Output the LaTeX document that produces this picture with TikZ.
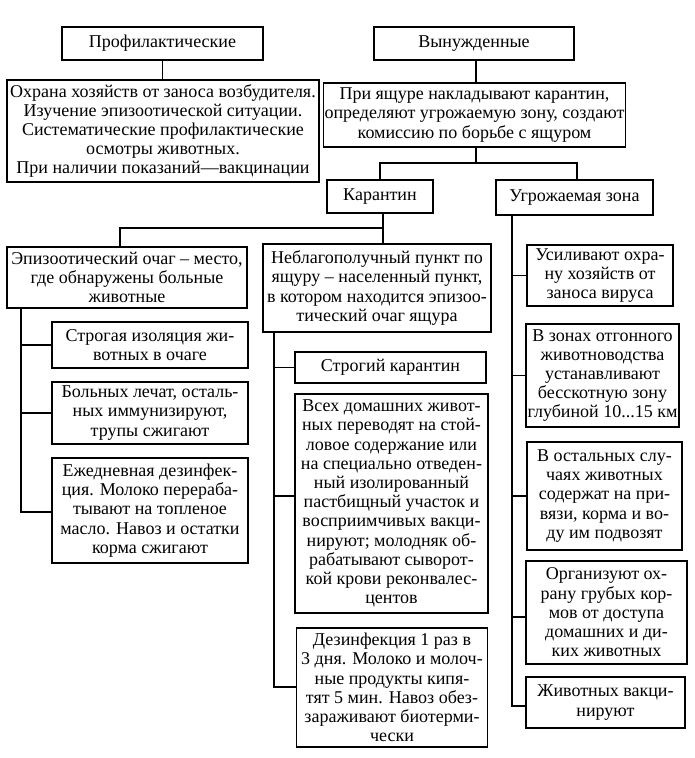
\documentclass[tikz,border=0pt]{standalone}
\usepackage{fontspec}
\setmainfont{Liberation Serif}
\begin{document}
\begin{tikzpicture}[x=1pt,y=-1pt,
  box/.style={draw=black,line width=1.2pt,inner sep=1pt,align=center,
    font=\fontsize{18}{19.2}\selectfont,anchor=center},
  conn/.style={draw=black,line width=1.6pt}]
\useasboundingbox[fill=white] (0,0) rectangle (694,758);
% top level
\node[box,minimum width=201pt,minimum height=33pt] (prof) at (162.5,43.5) {Профилактические};
\node[box,minimum width=312pt,minimum height=102pt] (proftext) at (163,131) {Охрана хозяйств от заноса возбудителя.\\ Изучение эпизоотической ситуации.\\ Систематические профилактические\\ осмотры животных.\\ При наличии показаний—вакцинации};
\node[box,minimum width=200pt,minimum height=33pt] (vyn) at (474,43.5) {Вынужденные};
\node[box,minimum width=295pt,minimum height=64pt] (vyntext) at (474.5,115) {При ящуре накладывают карантин,\\ определяют угрожаемую зону, создают\\ комиссию по борьбе с ящуром};
\node[box,minimum width=106pt,minimum height=33pt] (karantin) at (380,196.5) {Карантин};
\node[box,minimum width=157pt,minimum height=35pt] (ugroz) at (574.5,197.5) {Угрожаемая зона};
% second level
\node[box,minimum width=240pt,minimum height=61pt] (epiz) at (127,277.5) {Эпизоотический очаг – место,\\ где обнаружены больные\\ животные};
\node[box,minimum width=228pt,minimum height=88pt] (nebl) at (377,288) {Неблагополучный пункт по\\ ящуру – населенный пункт,\\ в котором находится эпизоо-\\ тический очаг ящура};
% left column
\node[box,minimum width=196pt,minimum height=46pt] (strogiz) at (150,345) {Строгая изоляция жи-\\ вотных в очаге};
\node[box,minimum width=196pt,minimum height=62pt] (boln) at (150,413) {Больных лечат, осталь-\\ ных иммунизируют,\\ трупы сжигают};
\node[box,minimum width=196pt,minimum height=105pt] (ezhedn) at (150,510.5) {Ежедневная дезинфек-\\ ция. Молоко перераба-\\ тывают на топленое\\ масло. Навоз и остатки\\ корма сжигают};
% middle column
\node[box,minimum width=191pt,minimum height=31pt] (strkar) at (390.5,367.5) {Строгий карантин};
\node[box,minimum width=193pt,minimum height=219pt] (vseh) at (391.5,503.5) {Всех домашних живот-\\ ных переводят на стой-\\ ловое содержание или\\ на специально отведен-\\ ный изолированный\\ пастбищный участок и\\ восприимчивых вакци-\\ нируют; молодняк об-\\ рабатывают сыворот-\\ кой крови реконвалес-\\ центов};
\node[box,minimum width=191pt,minimum height=119pt] (dezinf) at (392,687.5) {Дезинфекция 1 раз в\\ 3 дня. Молоко и молоч-\\ ные продукты кипя-\\ тят 5 мин. Навоз обез-\\ зараживают биотерми-\\ чески};
% right column
\node[box,minimum width=146pt,minimum height=61pt] (usil) at (600,275.5) {Усиливают охра-\\ ну хозяйств от\\ заноса вируса};
\node[box,minimum width=153pt,minimum height=103pt] (zonah) at (602.5,375.5) {В зонах отгонного\\ животноводства\\ устанавливают\\ бесскотную зону\\ глубиной 10...15 км};
\node[box,minimum width=155pt,minimum height=108pt] (ostal) at (604.5,496) {В остальных слу-\\ чаях животных\\ содержат на при-\\ вязи, корма и во-\\ ду им подвозят};
\node[box,minimum width=161pt,minimum height=103pt] (organ) at (606.5,612.5) {Организуют ох-\\ рану грубых кор-\\ мов от доступа\\ домашних и ди-\\ ких животных};
\node[box,minimum width=159pt,minimum height=51pt] (vakc) at (605.5,702.5) {Животных вакци-\\ нируют};
% junction coordinates
\coordinate (h1) at (476,163);
\coordinate (h2) at (383,228);
\coordinate (lv) at (21,512);
\coordinate (mv) at (274,687);
\coordinate (rv) at (512,706);
% connectors
\draw[conn] (prof.south) -- (prof.south |- proftext.north);
\draw[conn] (vyntext.south -| h1) -- (h1);
\draw[conn] (vyn.south -| h1) -- (vyntext.north -| h1);
\draw[conn] (karantin.north) |- (h1) -| (577,180);
\draw[conn] (karantin.south -| h2) -- (nebl.north -| h2);
\draw[conn] (h2) -| (120,247);
\draw[conn] (epiz.south -| lv) -- (lv) -- (ezhedn.west |- lv);
\draw[conn] (lv |- strogiz.west) -- (strogiz.west);
\draw[conn] (lv |- boln.west) -- (boln.west);
\draw[conn] (nebl.south -| mv) -- (mv) -- (dezinf.west |- mv);
\draw[conn] (mv |- strkar.west) -- (strkar.west);
\draw[conn] (274,496) -- (vseh.west |- 274,496);
\draw[conn] (ugroz.south -| rv) -- (rv) -- (vakc.west |- rv);
\draw[conn] (rv |- usil.west) -- (usil.west);
\draw[conn] (rv |- zonah.west) -- (zonah.west);
\draw[conn] (rv |- ostal.west) -- (ostal.west);
\draw[conn] (512,617) -- (organ.west |- 512,617);
\end{tikzpicture}
\end{document}
